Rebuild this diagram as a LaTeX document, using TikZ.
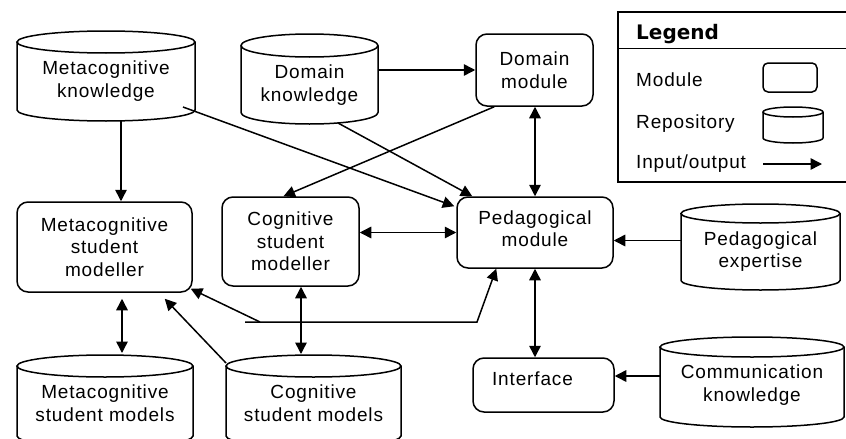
\documentclass[tikz,border=0pt]{standalone}
\usepackage{fontspec}
\setmainfont{Liberation Sans}[LetterSpace=4.5]
\newfontfamily\legfont{DejaVu Sans}
\usetikzlibrary{arrows.meta,calc}

\tikzset{
  ln/.style={line width=1.5pt, black},
  arr/.style={ln, -{Triangle[length=11.5pt,width=11.5pt]}},
  darr/.style={ln, {Triangle[length=11.5pt,width=11.5pt]}-{Triangle[length=11.5pt,width=11.5pt]}},
  txt/.style={align=center, font=\fontsize{19}{22.5}\selectfont, inner sep=0pt},
  mod/.style={draw, ln, rounded corners=11pt, inner sep=0pt, txt},
  repo/.style={inner sep=0pt, outer sep=0pt},
  legtxt/.style={anchor=base west, inner sep=0pt, font=\fontsize{19}{22.5}\selectfont},
}
\newcommand\cylOutline[3]{%
  \draw[ln] ([yshift=-#3pt]#1.north west) -- ([yshift=#3pt]#1.south west)
     arc[start angle=180,end angle=360,x radius=#2pt,y radius=#3pt]
     -- ([yshift=-#3pt]#1.north east);
  \draw[ln] ([yshift=-#3pt]#1.north) ellipse[x radius=#2pt,y radius=#3pt];
}

\begin{document}
\begin{tikzpicture}[x=1pt,y=-1pt]
\clip (0,0) rectangle (846,439);
\fill[white] (0,0) rectangle (846,439);

% repositories
\node[repo, minimum width=178pt, minimum height=90pt] (mk) at (106,76) {};
\cylOutline{mk}{89}{11}
\node[txt] (mkT) at ([yshift=-5pt]mk.center) {Metacognitive\\knowledge};

\node[repo, minimum width=137pt, minimum height=90pt] (dk) at (309.5,79) {};
\cylOutline{dk}{68.5}{11.5}
\node[txt] (dkT) at ([yshift=-6pt]dk.center) {Domain\\knowledge};

\node[repo, minimum width=159pt, minimum height=86pt] (pe) at (760.5,247) {};
\cylOutline{pe}{79.5}{9.5}
\node[txt] (peT) at ([yshift=-4.5pt]pe.center) {Pedagogical\\expertise};

\node[repo, minimum width=184pt, minimum height=90pt] (ck) at (752,382) {};
\cylOutline{ck}{92}{10}
\node[txt] (ckT) at ([yshift=-3pt]ck.center) {Communication\\knowledge};

\node[repo, minimum width=176pt, minimum height=92pt] (msm) at (105,401) {};
\cylOutline{msm}{88}{11}
\node[txt] (msmT) at ([yshift=-2pt]msm.center) {Metacognitive\\student models};

\node[repo, minimum width=175pt, minimum height=92pt] (csm) at (313.5,401) {};
\cylOutline{csm}{87.5}{11}
\node[txt] (csmT) at ([yshift=-2pt]csm.center) {Cognitive\\student models};

% modules
\node[mod, minimum width=117pt, minimum height=72pt] (dm) at (534.5,70) {Domain\\module};
\node[mod, minimum width=175pt, minimum height=90pt] (msmr) at (104.5,247) {Metacognitive\\student\\modeller};
\node[mod, minimum width=137pt, minimum height=89pt] (csmr) at (290.5,241.5) {Cognitive\\student\\modeller};
\node[mod, minimum width=156pt, minimum height=71pt] (pm) at (535,232.5) {};
\node[txt] (pmT) at ([yshift=4pt]pm.center) {Pedagogical\\module};
\node[mod, minimum width=141pt, minimum height=54pt] (intf) at (543.5,385) {};
\node[txt] (intfT) at ([shift={(-11pt,6.5pt)}]intf.center) {Interface};

% connectors
\coordinate (a121) at (121,0);
\draw[arr] (mk.south -| a121) -- (msmr.north -| a121);
\draw[arr] ([shift={(-12pt,14pt)}]mk.south east) -- ([shift={(-2pt,-10pt)}]pm.north west);
\draw[arr] (dk.east |- dm.west) -- (dm.west);
\draw[arr] ([shift={(28.5pt,1pt)}]dk.south) -- ([xshift=16pt]pm.north west);
\draw[arr] ([xshift=19pt]dm.south west) -- ([xshift=-7pt]csmr.north);
\draw[darr] (pm.north |- dm.south) -- (pm.north);
\draw[darr] (csmr.east |- pm.west) -- (pm.west);
\coordinate (pmE) at ([yshift=-8pt]pm.east);
\draw[arr] (pe.west |- pmE) -- (pmE);
\draw[darr] (pm.south) -- (pm.south |- intf.north);
\coordinate (ifE) at ([yshift=9pt]intf.east);
\draw[arr] (ck.west |- ifE) -- (ifE);
\coordinate (csmrS) at ([xshift=10.5pt]csmr.south);
\draw[darr] (csmrS) -- ($(csmrS |- csm.north)+(0,-1)$);
\coordinate (msmrS) at ([shift={(17.5pt,-6pt)}]msmr.south);
\draw[darr] (msmrS) -- ($(msmrS |- msm.north)+(0,-2)$);
\draw[arr] ([yshift=-8pt]csm.north west) -- ([shift={(-28pt,-6pt)}]msmr.south east);
\coordinate (j0) at (245,322);
\coordinate (j1) at (260,322);
\coordinate (j2) at (477,322);
\draw[arr] (j0) -- (j2) -- ([xshift=40pt]pm.south west);
\draw[arr] (j1) -- ([shift={(-2pt,4pt)}]msmr.south east);

% legend
\node[draw, ln, inner sep=0pt, minimum width=232pt, minimum height=170pt] (leg) at (734,97) {};
\draw[ln] ([yshift=-37pt]leg.north west) -- ([yshift=-37pt]leg.north east);
\node[anchor=base west, inner sep=0pt, font=\legfont\bfseries\fontsize{20}{24}\selectfont] (legT) at (636,39) {Legend};
\node[legtxt] (lm) at (636,86) {Module};
\node[legtxt] (lr) at (636,128) {Repository};
\node[legtxt] (lio) at (636,168) {Input/output};
\node[draw, ln, rounded corners=5pt, inner sep=0pt, minimum width=54pt, minimum height=29pt] (lmI) at (790,77.5) {};
\node[repo, minimum width=60pt, minimum height=36pt] (lrI) at (793,125) {};
\cylOutline{lrI}{30}{5}
\coordinate (la0) at (763,164);
\coordinate (la1) at (822,164);
\draw[arr] (la0) -- (la1);
\end{tikzpicture}
\end{document}
